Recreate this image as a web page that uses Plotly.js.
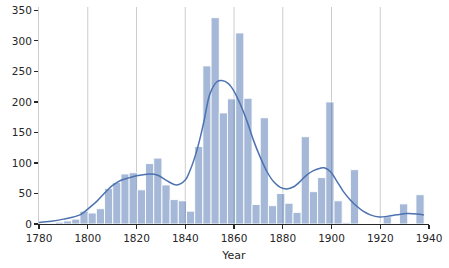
<!DOCTYPE html>
<html>
<head>
<meta charset="utf-8">
<script src="https://cdn.plot.ly/plotly-3.0.1.min.js"></script>
<style>html,body{margin:0;padding:0;background:#fff;}#chart{width:449px;height:268px;}</style>
</head>
<body>
<div id="chart"></div>
<script>
// Histogram bins (47 bins from 1780 to 1938)
const binStart = 1780;
const binEnd = 1938;
const binCounts = [1, 1, 3, 5, 8, 21, 18, 25, 58, 68, 82, 84, 56, 99, 108, 64, 40,
  38, 21, 127, 259, 338, 182, 205, 313, 206, 32, 174, 30, 50, 34, 19, 143, 53, 76,
  200, 38, 2, 89, 0, 0, 0, 12, 0, 33, 0, 48];

// KDE curve
const kdeYears = [1779.7, 1785, 1790, 1796.8, 1800, 1803.7, 1807.1, 1810.5, 1813.9, 1817.3, 1820,
  1823.4, 1826.3, 1829, 1832.4, 1836.5, 1840, 1842, 1844.8, 1847.5, 1850.2, 1853, 1855,
  1857.7, 1859.8, 1862.5, 1865.2, 1868, 1870.7, 1873.5, 1876.2, 1879, 1881.7, 1884.5,
  1887.1, 1889.9, 1892.6, 1895.4, 1897, 1899.5, 1902.3, 1904.9, 1907.7, 1910.4, 1913.1,
  1915.9, 1919.7, 1922.7, 1926.8, 1930.9, 1935, 1937.9];
const kdeValues = [2.5, 4.5, 8, 15, 24.5, 37, 51.5, 64, 72, 76, 79,
  81, 82, 79.5, 71, 64, 72, 88, 121, 165, 214, 233, 235,
  230, 219, 197, 170, 137, 110, 86, 69.5, 60, 57.5, 61,
  69.5, 80.5, 87.5, 91.5, 92, 86, 69.5, 53, 39.5, 29, 20.5,
  15, 11.5, 12.5, 15, 17, 16.3, 14.7];

const xTicks = [1780, 1800, 1820, 1840, 1860, 1880, 1900, 1920, 1940];
const xGridTicks = [1800, 1820, 1840, 1860, 1880, 1900, 1920];
const yTicks = [0, 50, 100, 150, 200, 250, 300, 350];
const xLabel = "Year";

const nBins = binCounts.length;
const binWidth = (binEnd - binStart) / nBins;
const binCenters = binCounts.map((_, i) => binStart + binWidth * (i + 0.5));

const textColor = "#262626";
const traces = [
  {
    type: "bar",
    x: binCenters,
    y: binCounts,
    width: binWidth,
    marker: {color: "rgba(76,114,176,0.5)", line: {color: "#ffffff", width: 0.9}},
    hoverinfo: "skip",
    showlegend: false
  },
  {
    type: "scatter",
    mode: "lines",
    x: kdeYears,
    y: kdeValues,
    line: {color: "#4c72b0", width: 1.5, shape: "spline", smoothing: 1},
    hoverinfo: "skip",
    showlegend: false
  }
];

const gridShapes = xGridTicks.map(v => ({
  type: "line", xref: "x", yref: "paper", x0: v, x1: v, y0: 0, y1: 1,
  line: {color: "#cccccc", width: 1}, layer: "below"
}));

const layout = {
  width: 449,
  height: 268,
  margin: {l: 39, r: 20, t: 7, b: 44},
  paper_bgcolor: "#ffffff",
  plot_bgcolor: "#ffffff",
  font: {family: "DejaVu Sans", size: 10.5, color: textColor},
  bargap: 0,
  shapes: gridShapes,
  xaxis: {
    range: [1780, 1940],
    tickmode: "array",
    tickvals: xTicks,
    ticktext: xTicks.map(String),
    showgrid: false,
    zeroline: false,
    showline: true,
    linecolor: textColor,
    linewidth: 1.2,
    ticks: "outside",
    ticklen: 4,
    tickwidth: 1.2,
    tickcolor: textColor,
    title: {text: xLabel, font: {size: 11, color: textColor}, standoff: 8},
    tickfont: {size: 10.5, color: textColor}
  },
  yaxis: {
    range: [0, 355.5],
    tickmode: "array",
    tickvals: yTicks,
    ticktext: yTicks.map(String),
    showgrid: false,
    zeroline: false,
    showline: true,
    linecolor: "#cccccc",
    linewidth: 1,
    ticks: "outside",
    ticklen: 4,
    tickwidth: 1.2,
    tickcolor: textColor,
    tickfont: {size: 10.5, color: textColor}
  }
};

Plotly.newPlot("chart", traces, layout, {displayModeBar: false, staticPlot: true});
</script>
</body>
</html>
